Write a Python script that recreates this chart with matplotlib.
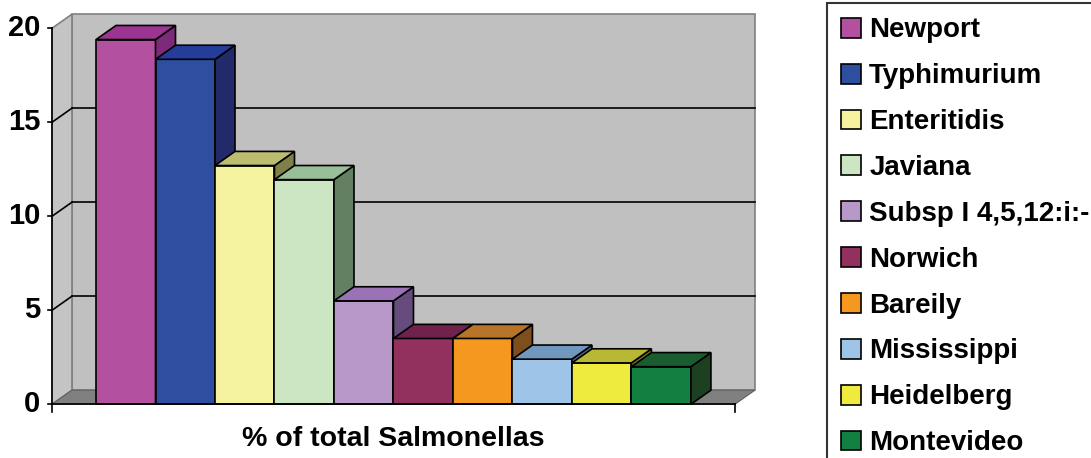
# -*- coding: utf-8 -*-
"""
Salmonella serotypes, share of all isolates, drawn as an Excel style 3-D
column chart (front faces via ax.bar, side and top faces as polygons).
"""
import matplotlib
matplotlib.use('Agg')
from matplotlib import pyplot as plt
from matplotlib.patches import Polygon, Patch

plt.rcParams['font.family'] = ['Liberation Sans', 'DejaVu Sans']
plt.rcParams['font.weight'] = 'bold'

# data
serotypes = ['Newport', 'Typhimurium', 'Enteritidis', 'Javiana',
             'Subsp I 4,5,12:i:-', 'Norwich', 'Bareily', 'Mississippi',
             'Heidelberg', 'Montevideo']
percent = [19.4, 18.35, 12.7, 11.95, 5.5, 3.5, 3.5, 2.4, 2.2, 2.0]
yticks = [0, 5, 10, 15, 20]
xlabel = '% of total Salmonellas'

# front / top / side colours for each column
front_col = ['#B450A0', '#2E4FA0', '#F5F2A0', '#CCE6C4', '#B898C8',
             '#92305E', '#F59820', '#9EC4E8', '#EEEB3E', '#118040']
top_col = ['#9C3592', '#243D98', '#BDBD72', '#98BF98', '#9A72B5',
           '#70224C', '#B87428', '#7098BE', '#B9B834', '#1A5E30']
side_col = ['#7E2A7A', '#222A6A', '#80804A', '#648062', '#654C7C',
            '#5A1E40', '#7E4E1C', '#50708E', '#7A7A26', '#1C4020']

# oblique depth offset, in data units (x: bar widths, y: percent)
DX = 0.336
DY = 0.75
GAP = 0.74
YMAX = 20
LW = 1.2

fig = plt.figure(figsize=(10.91, 4.58), dpi=100)
ax = fig.add_axes([0.0362, 0.1009, 0.668, 0.8784])
ax.set_xlim(-0.95, 11.3)
ax.set_ylim(-0.4, 21.0)
ax.axis('off')

n = len(percent)
x0 = -GAP
x1 = n + GAP

# walls and floor
ax.add_patch(Polygon([(x0 + DX, DY), (x1 + DX, DY), (x1 + DX, YMAX + DY),
                      (x0 + DX, YMAX + DY)], closed=True, fc='#C0C0C0',
                     ec='#808080', lw=1.2, zorder=1))
ax.add_patch(Polygon([(x0, 0), (x0 + DX, DY), (x0 + DX, YMAX + DY),
                      (x0, YMAX)], closed=True, fc='#C4C4C4',
                     ec='#808080', lw=1.2, zorder=1))
ax.add_patch(Polygon([(x0, 0), (x1, 0), (x1 + DX, DY), (x0 + DX, DY)],
                     closed=True, fc='#808080', ec='#606060', lw=0.8,
                     zorder=1))

# gridlines on back and side walls
for v in yticks[1:-1]:
    ax.plot([x0 + DX, x1 + DX], [v + DY, v + DY], color='black', lw=LW,
            zorder=2)
    ax.plot([x0, x0 + DX], [v, v + DY], color='black', lw=LW, zorder=2)

# columns: left to right so each one covers the side of the previous
for i, val in enumerate(percent):
    ax.bar(i, val, width=1.0, align='edge', color=front_col[i],
           edgecolor='black', linewidth=LW, zorder=3 + i)
    ax.add_patch(Polygon([(i + 1, 0), (i + 1 + DX, DY),
                          (i + 1 + DX, val + DY), (i + 1, val)],
                         closed=True, fc=side_col[i], ec='black', lw=LW,
                         zorder=3 + i))
    ax.add_patch(Polygon([(i, val), (i + 1, val), (i + 1 + DX, val + DY),
                          (i + DX, val + DY)], closed=True, fc=top_col[i],
                         ec='black', lw=LW, zorder=3 + i))

# axes lines and ticks
ax.plot([x0, x0], [0, YMAX], color='black', lw=LW, zorder=20)
ax.plot([x0, x1], [0, 0], color='black', lw=LW, zorder=20)
for xe in (x0, x1):
    ax.plot([xe, xe], [0, -0.4], color='black', lw=LW, zorder=20,
            clip_on=False)
for v in yticks:
    ax.plot([x0 - 0.07, x0], [v, v], color='black', lw=LW, zorder=20,
            clip_on=False)
    ax.text(x0 - 0.2, v, str(v), ha='right', va='center', fontsize=21,
            fontweight='bold')

ax.text((x0 + x1) / 2, -1.85, xlabel, ha='center', va='center',
        fontsize=20.5, fontweight='bold')

# legend, running off the right and bottom of the picture
handles = [Patch(facecolor=c, edgecolor='black', linewidth=1.2)
           for c in front_col]
leg = fig.legend(handles, serotypes, loc='upper left',
                 bbox_to_anchor=(827 / 1091, 1 - 3 / 458),
                 borderaxespad=0, fancybox=False, frameon=True,
                 prop={'size': 20, 'weight': 'bold'},
                 handlelength=0.72, handleheight=0.72, handletextpad=0.28,
                 labelspacing=0.715, borderpad=0.52)
leg.get_frame().set_edgecolor('black')
leg.get_frame().set_linewidth(1.5)

fig.savefig('out.png', dpi=100)
